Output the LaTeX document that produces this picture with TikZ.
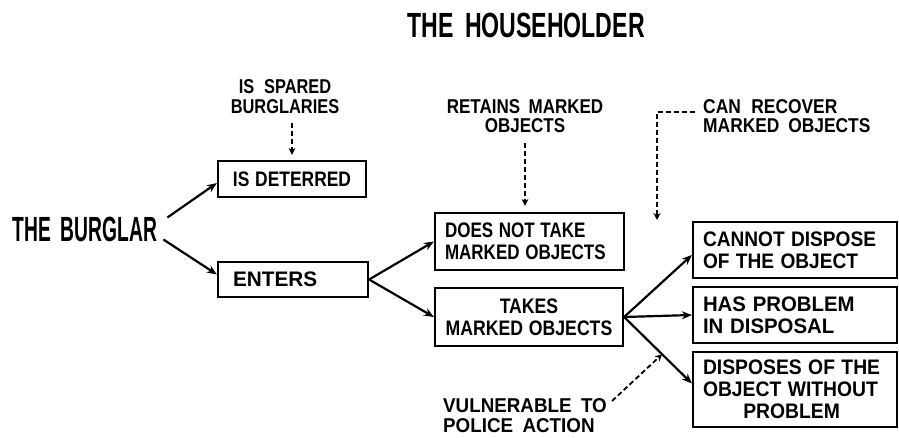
\documentclass[tikz,border=0pt]{standalone}
\usepackage{fontspec}
\setmainfont{Liberation Sans}[WordSpace=1.8]
\usetikzlibrary{arrows.meta,calc}
\newcommand{\handtext}[3]{\scalebox{#1}[1]{\begin{tabular}[t]{@{}#2@{}}#3\end{tabular}}}
\newcommand{\boxtext}[3]{\raisebox{-3pt}[\height][\depth]{\handtext{#1}{#2}{#3}}}
\begin{document}
\begin{tikzpicture}[x=1pt,y=-1pt,
  lbl/.style={inner sep=0pt, font=\bfseries\fontsize{20}{20}\selectfont},
  big/.style={inner sep=0pt, font=\bfseries\fontsize{35}{35}\selectfont},
  box/.style={draw, line width=2.2pt, inner ysep=0pt, inner xsep=10pt, font=\bfseries\fontsize{21}{22}\selectfont},
  arr/.style={line width=2.2pt, -{Stealth[length=10pt,width=8pt]}},
  darr/.style={line width=1.8pt, dash pattern=on 5pt off 3pt, -{Stealth[length=7pt,width=7pt]}}]
\useasboundingbox (0,0) rectangle (899,437);

\node[big] (title) at (526,25.5) {\scalebox{0.66}[1]{THE HOUSEHOLDER}};
\node[big] (burglar) at (85,229.5) {\scalebox{0.55}[1]{THE BURGLAR}};

\node[lbl, anchor=base] (spared) at (285,93) {\handtext{0.82}{c}{IS\hspace{0.6em}SPARED\\BURGLARIES}};
\node[lbl, font=\bfseries\fontsize{20}{18}\selectfont, anchor=base] (retains) at (525,113) {\handtext{0.85}{c}{RETAINS MARKED\\OBJECTS}};
\node[lbl, font=\bfseries\fontsize{20}{18}\selectfont, anchor=base west] (recover) at (703,113) {\handtext{0.87}{l}{CAN\hspace{0.6em}RECOVER\\MARKED OBJECTS}};
\node[lbl, font=\bfseries\fontsize{20}{20}\selectfont, anchor=base west] (vulnerable) at (443,412) {\handtext{0.94}{l}{VULNERABLE TO\\POLICE ACTION}};

\node[box, minimum height=36pt, text width=128pt, align=center] (deterred) at (292,179) {\boxtext{0.83}{c}{IS DETERRED}};
\node[box, minimum height=35pt, text width=120pt, inner xsep=15pt, align=left] (enters) at (293,279.5) {\boxtext{0.99}{l}{ENTERS}};
\node[box, minimum height=57pt, text width=169pt, align=left] (notake) at (529.5,241.5) {\boxtext{0.81}{l}{DOES NOT TAKE\\MARKED OBJECTS}};
\node[box, minimum height=58pt, text width=172pt, inner xsep=8pt, align=center] (takes) at (529,317) {\boxtext{0.84}{c}{TAKES\\MARKED OBJECTS}};
\node[box, minimum height=56pt, text width=184pt, align=left] (cannot) at (795,250) {\boxtext{0.91}{l}{CANNOT DISPOSE\\OF THE OBJECT}};
\node[box, minimum height=56pt, text width=184pt, align=left] (hasprob) at (795,315) {\boxtext{0.97}{l}{HAS PROBLEM\\IN DISPOSAL}};
\node[box, minimum height=75pt, text width=184pt, align=left] (disposes) at (795,389.5) {\boxtext{0.92}{l}{DISPOSES OF THE\\OBJECT WITHOUT\\\multicolumn{1}{c}{PROBLEM}}};

\draw[arr] ([xshift=10pt,yshift=12pt]burglar.east) -- ([yshift=-4pt]deterred.west);
\draw[arr] ([xshift=6pt,yshift=-10pt]burglar.east) -- ([yshift=5pt]enters.west);
\draw[arr] (enters.east) -- (notake.west);
\draw[arr] (enters.east) -- (takes.west);
\draw[arr] (takes.east) -- ([yshift=-5pt]cannot.west);
\draw[arr] (takes.east) -- (hasprob.west);
\draw[arr] (takes.east) -- coordinate[pos=0.56] (hit) ([yshift=6pt]disposes.west);

\coordinate (rc) at (657,220);
\draw[darr] ([yshift=-4pt]deterred.north |- spared.south) -- ([yshift=5pt]deterred.north);
\draw[darr] ([yshift=-5pt]retains.south) -- ([yshift=6pt]retains.south |- notake.north);
\draw[darr] ([xshift=-8pt,yshift=1pt]recover.base west) -| (rc);
\draw[darr] ([xshift=5pt,yshift=11pt]vulnerable.base east) -- (hit);
\end{tikzpicture}
\end{document}
